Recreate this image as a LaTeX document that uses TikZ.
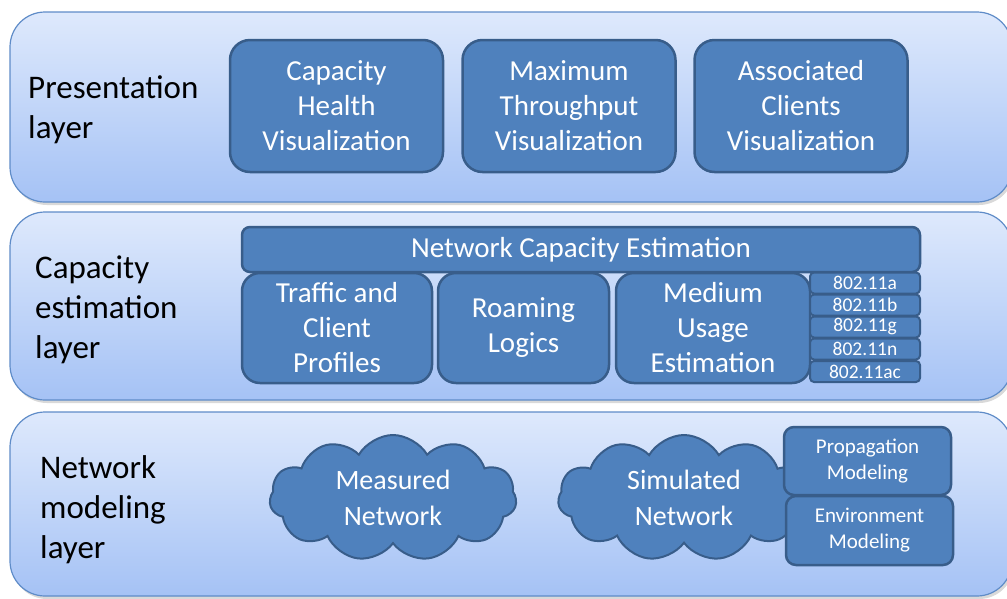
\documentclass[tikz,border=0pt]{standalone}
\usepackage{fontspec}
\setmainfont{Carlito}
\usepackage{xcolor}
\usepackage{tikz}
\usetikzlibrary{shapes.symbols,shadows}
\definecolor{layertop}{HTML}{DEE9FC}
\definecolor{layerbot}{HTML}{A5C2F5}
\definecolor{layerline}{HTML}{5F8CC8}
\definecolor{boxfill}{HTML}{4F81BD}
\definecolor{boxline}{HTML}{385D8A}
\tikzset{
  layer/.style={rectangle, rounded corners=35pt, draw=layerline, line width=1.2pt,
    top color=layertop, bottom color=layerbot, minimum width=1002pt,
    drop shadow={opacity=0.3, shadow xshift=2pt, shadow yshift=-3pt}},
  layerlabel/.style={anchor=west, align=left, inner sep=0pt,
    font=\fontsize{33}{40}\selectfont},
  block/.style={rectangle, rounded corners=#1, draw=boxline, fill=boxfill,
    line width=2.5pt, text=white, align=center, inner sep=0pt,
    font=\fontsize{29}{35}\selectfont},
  block/.default=18pt,
  puff/.style={cloud, cloud puffs=11, cloud puff arc=120, aspect=2,
    draw=boxline, fill=boxfill, line width=2pt, text=white, align=center,
    inner sep=0pt, font=\fontsize{28}{36}\selectfont},
}

\begin{document}
\begin{tikzpicture}[x=1pt, y=-1pt]
\useasboundingbox (0,0) rectangle (1007,598);
% layers
\node[layer, minimum height=190pt] at (511, 107) (pres) {};
\node[layer, minimum height=188pt] at (511, 306) (capa) {};
\node[layer, minimum height=184pt] at (511, 504) (netw) {};
\node[layerlabel] at (28, 110)   (preslabel) {Presentation\\layer};
\node[layerlabel] at (35, 310)   (capalabel) {Capacity\\estimation\\layer};
\node[layerlabel] at (40, 510)   (netwlabel) {Network\\modeling\\layer};
% presentation layer
\node[block=20pt, minimum width=213pt, minimum height=132pt] at (336.5, 106) (health) {Capacity\\Health\\Visualization};
\node[block=20pt, minimum width=213pt, minimum height=132pt] at (569, 106)   (thru)   {Maximum\\Throughput\\Visualization};
\node[block=20pt, minimum width=213pt, minimum height=132pt] at (801, 106)   (assoc)  {Associated\\Clients\\Visualization};
% capacity estimation layer
\node[block=8pt, minimum width=678pt, minimum height=45pt] at (581, 249.5) (nce) {Network Capacity Estimation};
\node[block, minimum width=190pt, minimum height=110pt] at (337, 328)   (traffic) {Traffic and\\Client\\Profiles};
\node[block, minimum width=171pt, minimum height=110pt] at (523.5, 328) (roam)    {Roaming\\Logics};
\node[block, minimum width=194pt, minimum height=110pt] at (713, 328)   (medium)  {Medium\\Usage\\Estimation};
\foreach \y/\s/\n in {283/a/a, 305/b/b, 327/g/g, 349/n/n, 371.5/ac/ac}
  \node[block=4pt, minimum width=110pt, minimum height=21pt, line width=2pt,
        font=\fontsize{19.5}{20}\selectfont] at (865, \y) (std\n) {802.11\s};
% network modeling layer
\node[puff, minimum width=247pt, minimum height=126pt] at (393, 498) (measured)  {Measured\\Network};
\node[puff, minimum width=252pt, minimum height=126pt] at (684, 498) (simulated) {Simulated\\Network};
\node[block=10pt, minimum width=167pt, minimum height=68pt,
      font=\fontsize{21}{26}\selectfont] at (867.5, 461) (prop) {Propagation\\Modeling};
\node[block=10pt, minimum width=167pt, minimum height=69pt,
      font=\fontsize{21}{26}\selectfont] at (869.5, 530.5) (env) {Environment\\Modeling};
\end{tikzpicture}
\end{document}
